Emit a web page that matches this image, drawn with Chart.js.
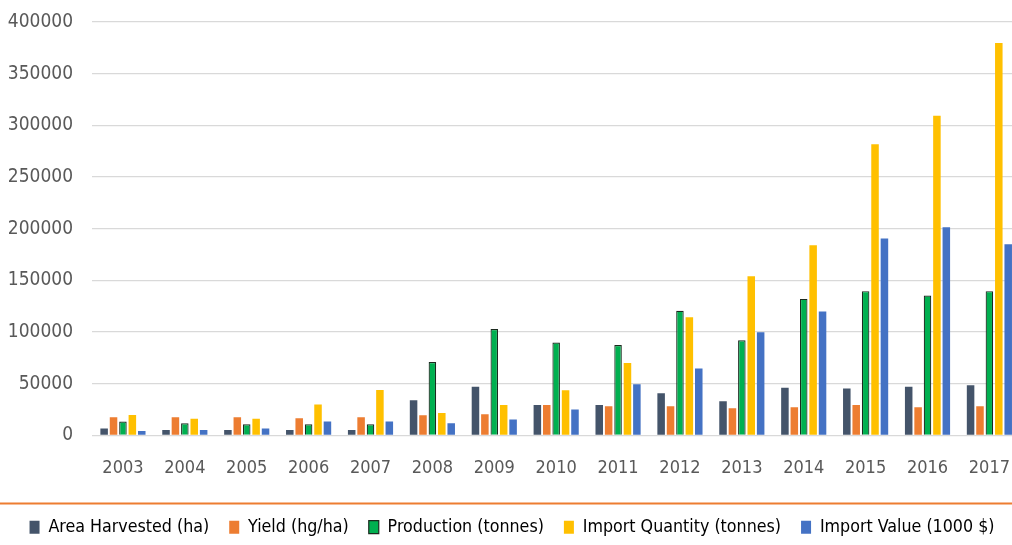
<!DOCTYPE html>
<html>
<head>
<meta charset="utf-8">
<script src="https://cdn.jsdelivr.net/npm/chart.js@4"></script>
<style>
  html, body { margin: 0; padding: 0; background: #fff; overflow: hidden; }
  #wrap { width: 1024px; height: 545px; }
</style>
</head>
<body>
<div id="wrap"><canvas id="myChart"></canvas></div>
<script>
// Years on the x axis
const years = ['2003', '2004', '2005', '2006', '2007', '2008', '2009', '2010',
               '2011', '2012', '2013', '2014', '2015', '2016', '2017'];

// Series values
const areaHarvested = [6500, 5100, 5100, 5100, 5100, 33900, 47100, 29300, 29300, 40600, 32900, 46100, 45200, 47100, 48400];
const yieldHgHa = [17400, 17400, 17400, 16500, 17400, 19400, 20300, 29300, 28100, 28100, 26100, 27100, 29300, 27100, 28100];
const production = [13300, 11600, 10600, 10600, 10600, 71000, 102900, 89700, 87400, 120500, 92000, 132000, 139500, 135200, 139500];
const importQuantity = [19700, 16100, 16100, 29700, 43900, 21600, 29300, 43600, 70000, 114300, 154000, 184000, 281700, 309300, 379600];
const importValue = [4200, 5100, 6500, 13300, 13300, 11600, 15200, 24900, 49400, 64600, 99700, 119800, 190500, 201400, 185000];

const FONT = '"DejaVu Sans Condensed", "Liberation Sans", sans-serif';

// Orange separator line just above the legend
const separator = {
    id: 'separator',
    afterDraw(chart) {
        const c = chart.ctx;
        const y = Math.round(chart.legend.top + 5) + 0.5;
        c.save();
        c.strokeStyle = '#ED7D31';
        c.lineWidth = 2;
        c.beginPath();
        c.moveTo(0, y);
        c.lineTo(chart.width, y);
        c.stroke();
        c.restore();
    }
};

const ctx = document.getElementById('myChart').getContext('2d');
new Chart(ctx, {
    type: 'bar',
    data: {
        labels: years,
        datasets: [
            { label: 'Area Harvested (ha)', data: areaHarvested, backgroundColor: '#44546A', borderWidth: 0 },
            { label: 'Yield (hg/ha)', data: yieldHgHa, backgroundColor: '#ED7D31', borderWidth: 0 },
            { label: 'Production (tonnes)', data: production, backgroundColor: '#00B050', borderColor: '#1b2a1f', borderWidth: 1.2 },
            { label: 'Import Quantity (tonnes)', data: importQuantity, backgroundColor: '#FFC000', borderWidth: 0 },
            { label: 'Import Value (1000 $)', data: importValue, backgroundColor: '#4472C4', borderWidth: 0 }
        ]
    },
    options: {
        responsive: true,
        maintainAspectRatio: false,
        animation: false,
        layout: { padding: { top: 22, left: 0, right: 0, bottom: -1 } },
        datasets: { bar: { categoryPercentage: 0.76, barPercentage: 0.8 } },
        scales: {
            x: {
                grid: { display: false },
                border: { display: false },
                ticks: { color: '#595959', font: { family: FONT, size: 18 }, padding: 14 },
                afterFit: (s) => { s.height = 63; }
            },
            y: {
                min: 0,
                max: 400000,
                ticks: {
                    stepSize: 50000,
                    color: '#595959',
                    font: { family: FONT, size: 19 },
                    padding: 19,
                    callback: (v) => String(v)
                },
                grid: { color: '#D9D9D9', lineWidth: 1.3, drawTicks: false },
                border: { display: false },
                afterFit: (s) => { s.width = 92; s.paddingTop = 0; }
            }
        },
        plugins: {
            legend: {
                position: 'bottom',
                labels: {
                    color: '#000',
                    font: { family: FONT, size: 17.7 },
                    boxWidth: 10,
                    boxHeight: 13,
                    padding: 20
                }
            },
            tooltip: { enabled: false }
        }
    },
    plugins: [separator]
});
</script>
</body>
</html>
